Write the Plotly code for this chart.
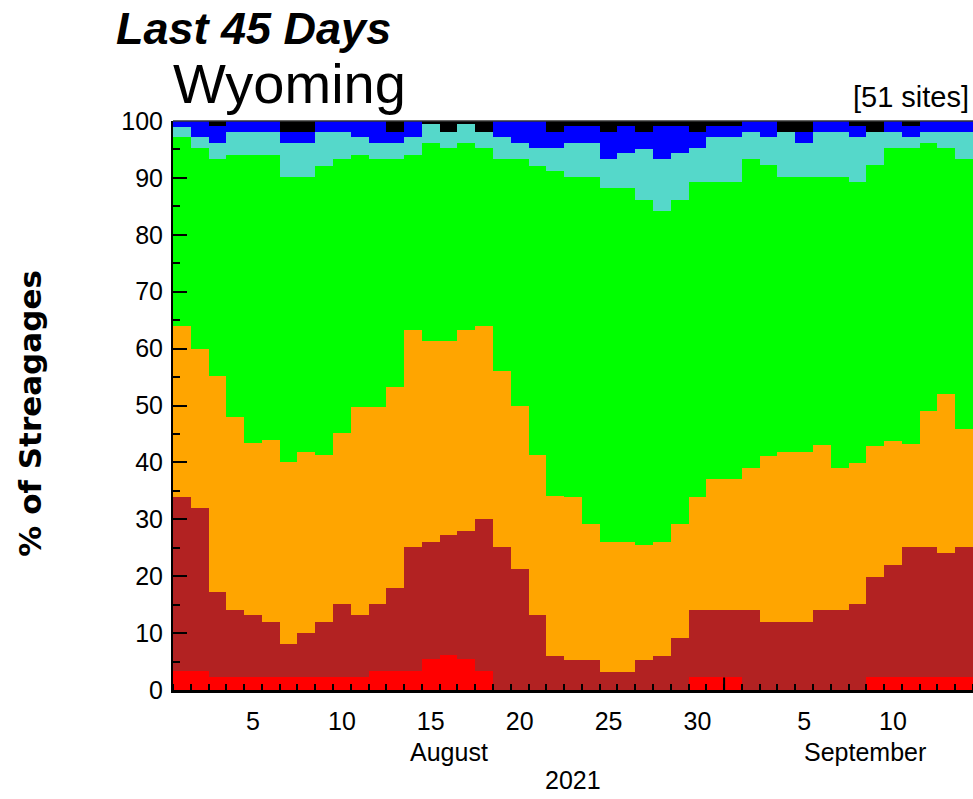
import plotly.graph_objects as go

# Days: Aug 1 .. Sep 14, 2021 (45 days), index 1..45
days = list(range(1, 46))

# Percent of streamgages in each flow class (bottom -> top)
low = [3.3, 3.3, 2.2, 2.2, 2.2, 2.2, 2.2, 2.2, 2.2, 2.2, 2.2, 3.3, 3.3, 3.3, 5.4,
       6.1, 5.4, 3.3, 0, 0, 0, 0, 0, 0, 0, 0, 0, 0, 0, 2.2,
       2.2, 2.2, 0, 0, 0, 0, 0, 0, 0, 2.2, 2.2, 2.2, 2.2, 2.2, 2.2]
below10 = [30.7, 28.7, 15.1, 11.9, 11.0, 9.8, 5.8, 7.8, 9.8, 13.0, 11.0, 11.9, 14.7, 21.9, 20.6,
           21.1, 22.6, 26.7, 25.2, 21.2, 13.2, 6.0, 5.2, 5.2, 3.2, 3.2, 5.2, 6.0, 9.2, 11.9,
           11.9, 11.9, 14.1, 12.0, 12.0, 12.0, 14.1, 14.1, 15.2, 17.7, 19.8, 23.0, 23.0, 21.9, 23.0]
p10_24 = [30.0, 28.0, 37.9, 33.9, 30.2, 31.9, 32.1, 31.9, 29.3, 29.9, 36.6, 34.6, 35.3, 38.1, 35.3,
          34.1, 35.3, 34.0, 30.9, 28.8, 28.1, 28.1, 28.8, 24.0, 22.8, 22.8, 20.2, 20.0, 20.0, 19.9,
          23.0, 23.0, 25.0, 29.1, 29.9, 29.9, 29.0, 25.0, 24.7, 23.0, 21.8, 18.0, 23.8, 27.9, 20.7]
p25_75 = [33.2, 35.3, 38.1, 46.1, 50.7, 50.2, 50.1, 48.3, 50.8, 48.2, 44.3, 43.5, 40.0, 30.8, 34.8,
          34.0, 32.8, 31.3, 37.2, 43.3, 50.8, 57.1, 56.2, 61.0, 62.2, 62.2, 60.8, 58.2, 57.0, 55.3,
          52.2, 52.2, 54.2, 51.2, 48.3, 48.3, 47.1, 51.1, 49.4, 49.4, 51.5, 52.1, 47.1, 43.3, 47.4]
p76_90 = [1.7, 1.9, 2.8, 4.0, 4.0, 4.0, 5.9, 5.9, 6.0, 4.8, 3.1, 2.8, 2.8, 3.1, 3.4,
          2.8, 3.4, 2.8, 3.9, 2.8, 3.2, 4.1, 5.9, 5.9, 5.1, 6.1, 8.9, 9.1, 8.1, 6.0,
          7.9, 7.9, 4.8, 4.9, 7.9, 5.9, 7.9, 7.9, 7.9, 5.8, 2.8, 1.9, 2.0, 2.8, 4.8]
above90 = [1.1, 2.8, 3.0, 1.9, 1.9, 1.9, 2.0, 2.0, 1.9, 1.9, 2.8, 3.9, 2.0, 2.8, 0,
           0, 0, 0, 2.8, 3.9, 4.7, 2.8, 3.0, 3.0, 4.8, 4.8, 3.0, 5.8, 4.8, 2.8,
           1.9, 1.9, 1.9, 2.8, 0, 2.0, 1.9, 1.9, 1.9, 0, 1.9, 1.9, 1.9, 1.9, 1.9]
high = [0, 0, 0.9, 0, 0, 0, 1.9, 1.9, 0, 0, 0, 0, 1.9, 0, 0.5,
        1.9, 0.5, 1.9, 0, 0, 0, 1.9, 0.9, 0.9, 1.9, 0.9, 1.9, 0.9, 0.9, 1.9,
        0.9, 0.9, 0, 0, 1.9, 1.9, 0, 0, 0.9, 1.9, 0, 0.9, 0, 0, 0]

series_names = ["Low", "<10", "10-24", "25-75", "76-90", ">90", "High"]
series_values = [low, below10, p10_24, p25_75, p76_90, above90, high]
series_colors = ["#FF0000", "#B22222", "#FFA500", "#00FF00", "#55D8CA", "#0000FF", "#000000"]

tick_days = [5, 10, 15, 20, 25, 30, 36, 41]
tick_text = ["5", "10", "15", "20", "25", "30", "5", "10"]
days_in_august = 31

fig = go.Figure()
for name, vals, col in zip(series_names, series_values, series_colors):
    fig.add_trace(go.Bar(x=days, y=vals, name=name, marker=dict(color=col, line=dict(width=0)),
                         width=1.0))

font_family = "Liberation Sans, Arial, sans-serif"

fig.update_layout(
    width=973, height=799,
    margin=dict(l=173, r=0, t=121, b=109),
    barmode="stack", bargap=0,
    showlegend=False,
    plot_bgcolor="white", paper_bgcolor="white",
    font=dict(family=font_family, color="black", size=25),
)

fig.update_xaxes(
    range=[0.5, 45.5], tickmode="array", tickvals=tick_days, ticktext=tick_text,
    ticks="", showgrid=False, zeroline=False,
    showline=True, linecolor="black", linewidth=3,
    tickfont=dict(size=25), ticklabelstandoff=7,
    minor=dict(ticks="inside", tickmode="linear", tick0=0.5, dtick=1, ticklen=6,
               tickwidth=1.5, tickcolor="black", showgrid=False),
)
fig.update_yaxes(
    range=[0, 100], tickmode="linear", tick0=0, dtick=10,
    ticks="inside", ticklen=14, tickwidth=2, tickcolor="black",
    showgrid=False, zeroline=False,
    showline=True, linecolor="black", linewidth=2,
    tickfont=dict(size=25), ticklabelstandoff=3,
    minor=dict(ticks="inside", tick0=5, dtick=10, ticklen=7, tickwidth=2, tickcolor="black",
               showgrid=False),
)

# month boundary (taller tick) and top frame line
fig.add_shape(type="line", xref="x", yref="paper", x0=days_in_august + 0.5, x1=days_in_august + 0.5,
              y0=0, y1=0.022, line=dict(color="black", width=2))
fig.add_shape(type="line", xref="paper", yref="paper", x0=0, x1=1, y0=1, y1=1,
              line=dict(color="#333333", width=1.5))

annotations = [
    dict(text="Last 45 Days", x=-0.0735, y=1.162, xanchor="left", yanchor="middle",
         font=dict(size=45, weight="bold", style="italic")),
    dict(text="Wyoming", x=-0.0025, y=1.066, xanchor="left", yanchor="middle",
         font=dict(size=56)),
    dict(text="[51 sites]", x=0.998, y=1.042, xanchor="right", yanchor="middle",
         font=dict(size=29)),
    dict(text="August", x=16, xref="x", y=-0.109, xanchor="center", yanchor="middle",
         font=dict(size=25)),
    dict(text="September", x=39.4, xref="x", y=-0.109, xanchor="center", yanchor="middle",
         font=dict(size=25)),
    dict(text="2021", x=0.5, y=-0.158, xanchor="center", yanchor="middle",
         font=dict(size=25)),
    dict(text="% of Streagages", x=-0.179, y=0.487, xanchor="center", yanchor="middle",
         textangle=-90, font=dict(size=31, weight="bold", family="DejaVu Sans, sans-serif")),
]
for a in annotations:
    a.setdefault("xref", "paper")
    a.setdefault("yref", "paper")
    a["showarrow"] = False
    fig.add_annotation(**a)

fig.write_html("out.html", config={"displayModeBar": False},
               post_script="document.body.style.margin='0';document.body.style.overflow='hidden';")
